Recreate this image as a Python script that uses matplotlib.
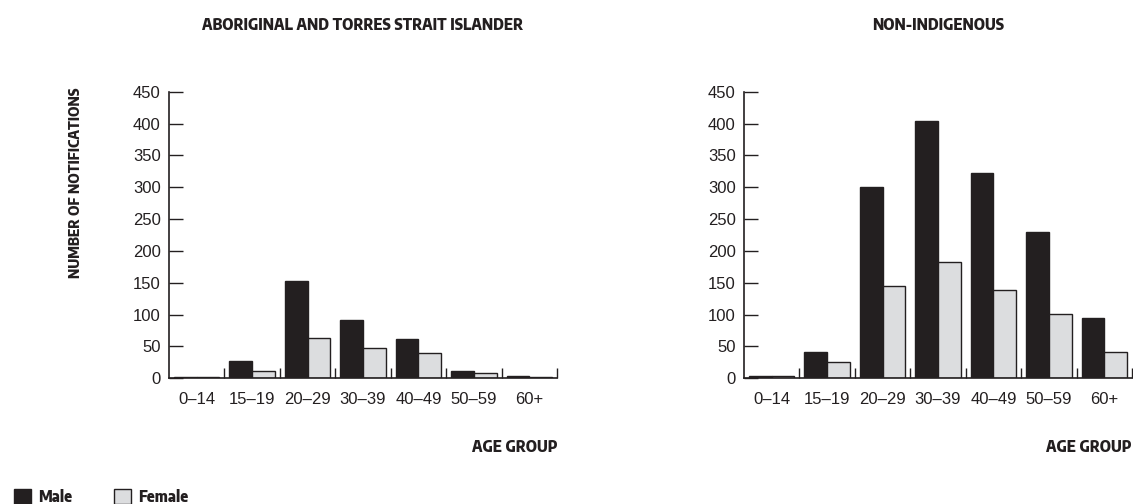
import matplotlib
matplotlib.use("Agg")
import matplotlib.pyplot as plt
from matplotlib.patches import Rectangle
from matplotlib import font_manager as fm
from matplotlib.textpath import TextPath
import numpy as np

age_groups = ["0–14", "15–19", "20–29", "30–39", "40–49", "50–59", "60+"]
atsi_male = [2, 27, 152, 91, 62, 12, 3]
atsi_female = [2, 12, 63, 48, 39, 8, 2]
nonind_male = [3, 41, 301, 404, 323, 230, 95]
nonind_female = [4, 25, 145, 183, 138, 101, 42]
y_ticks = [0, 50, 100, 150, 200, 250, 300, 350, 400, 450]

panel_titles = ["ABORIGINAL AND TORRES STRAIT ISLANDER", "NON-INDIGENOUS"]
y_label = "NUMBER OF NOTIFICATIONS"
x_label = "AGE GROUP"
legend_labels = ["Male", "Female"]

MALE_C = "#231f20"
FEMALE_C = "#dcdddf"
EDGE_C = "#231f20"
TXT_C = "#231f20"

# pick a bold face whose width/cap-height proportion best matches the heading style
TARGET_RATIO = 324.0 / 11.3
CAP_PX = 11.2
ALLOWED = {"Liberation Sans", "Liberation Sans Narrow", "Roboto", "Roboto Condensed", "Open Sans",
           "Open Sans Condensed", "Lato", "Inter", "Noto Sans", "DejaVu Sans"}
cands = []
seen = set()
for f in fm.fontManager.ttflist:
    if f.fname in seen or f.fname.lower().endswith(".ttc"):
        continue
    seen.add(f.fname)
    if not (f.name in ALLOWED or "Condensed" in f.name or "Narrow" in f.name):
        continue
    w = f.weight if isinstance(f.weight, int) else {"bold": 700, "semibold": 600, "demibold": 600,
                                                     "heavy": 800, "extra bold": 800}.get(str(f.weight), 400)
    if w < 700 or w > 800:
        continue
    low = f.fname.lower()
    if "italic" in low or "oblique" in low:
        continue
    cands.append(f)
    if len(cands) > 40:
        break

best = None
for f in cands:
    try:
        prop = fm.FontProperties(fname=f.fname, size=50)
        tw = TextPath((0, 0), panel_titles[0], prop=prop).get_extents().width
        ch = TextPath((0, 0), "H", prop=prop).get_extents().height
    except Exception:
        continue
    if ch <= 0:
        continue
    score = abs(tw / ch - TARGET_RATIO)
    if best is None or score < best[0]:
        best = (score, f.fname, ch / 50)

if best is not None:
    size_pt = CAP_PX * 72 / 100 / best[2]
    BOLD = dict(fontproperties=fm.FontProperties(fname=best[1], size=size_pt))
    YLAB = dict(fontproperties=fm.FontProperties(fname=best[1], size=size_pt * 0.93))
else:
    BOLD = dict(family=["Liberation Sans", "DejaVu Sans"], weight="bold", fontsize=11)
    YLAB = dict(family=["Liberation Sans", "DejaVu Sans"], weight="bold", fontsize=10.5)

REG = ["Liberation Sans", "DejaVu Sans"]

W, H = 1133, 504
fig = plt.figure(figsize=(W / 100, H / 100), dpi=100)

def fx(px):
    return px / W

def fy(py):
    return 1 - py / H

axes_lefts = [169, 744]
ax_w = 388
ax_top, ax_bot = 91.7, 378.3
datasets = [(atsi_male, atsi_female), (nonind_male, nonind_female)]

for i, (left, (m, f)) in enumerate(zip(axes_lefts, datasets)):
    ax = fig.add_axes([fx(left), fy(ax_bot), fx(ax_w), (ax_bot - ax_top) / H])
    x = np.arange(len(age_groups)) + 0.5
    bw = 0.41
    ax.bar(x - bw / 2, m, width=bw, color=MALE_C, edgecolor=EDGE_C, linewidth=1.0)
    ax.bar(x + bw / 2, f, width=bw, color=FEMALE_C, edgecolor=EDGE_C, linewidth=1.0)
    ax.set_xlim(0, len(age_groups))
    ax.set_ylim(0, 450)
    for s in ["top", "right"]:
        ax.spines[s].set_visible(False)
    for s in ["left", "bottom"]:
        ax.spines[s].set_color(EDGE_C)
        ax.spines[s].set_linewidth(1.2)
    ax.set_yticks(y_ticks)
    ax.set_yticklabels([str(v) for v in y_ticks], family=REG, fontsize=12, color=TXT_C)
    ax.tick_params(axis="y", direction="in", length=10, width=1.0, color=EDGE_C, pad=6)
    ax.set_xticks(x)
    ax.set_xticklabels(age_groups, family=REG, fontsize=12, color=TXT_C)
    ax.tick_params(axis="x", which="major", length=0, pad=10)
    ax.set_xticks(np.arange(1, len(age_groups) + 1), minor=True)
    ax.tick_params(axis="x", which="minor", direction="in", length=7, width=1.0, color=EDGE_C)
    ax.patch.set_alpha(0)

    fig.text(fx(left + ax_w / 2), fy(25), panel_titles[i], ha="center", va="center",
             color=TXT_C, **BOLD)
    fig.text(fx(left + ax_w), fy(448), x_label, ha="right", va="center",
             color=TXT_C, **BOLD)

fig.text(fx(76), fy(183), y_label, rotation=90, ha="center", va="center",
         color=TXT_C, **YLAB)

# legend
for (sx, tx, col, lab) in [(14, 38, MALE_C, legend_labels[0]), (114, 138, FEMALE_C, legend_labels[1])]:
    fig.patches.append(Rectangle((fx(sx), fy(504)), fx(17), 15 / H, transform=fig.transFigure,
                                 facecolor=col, edgecolor=EDGE_C, linewidth=1.0))
    fig.text(fx(tx), fy(497), lab, ha="left", va="center", color=TXT_C, **BOLD)

fig.savefig("out.png", dpi=100)
